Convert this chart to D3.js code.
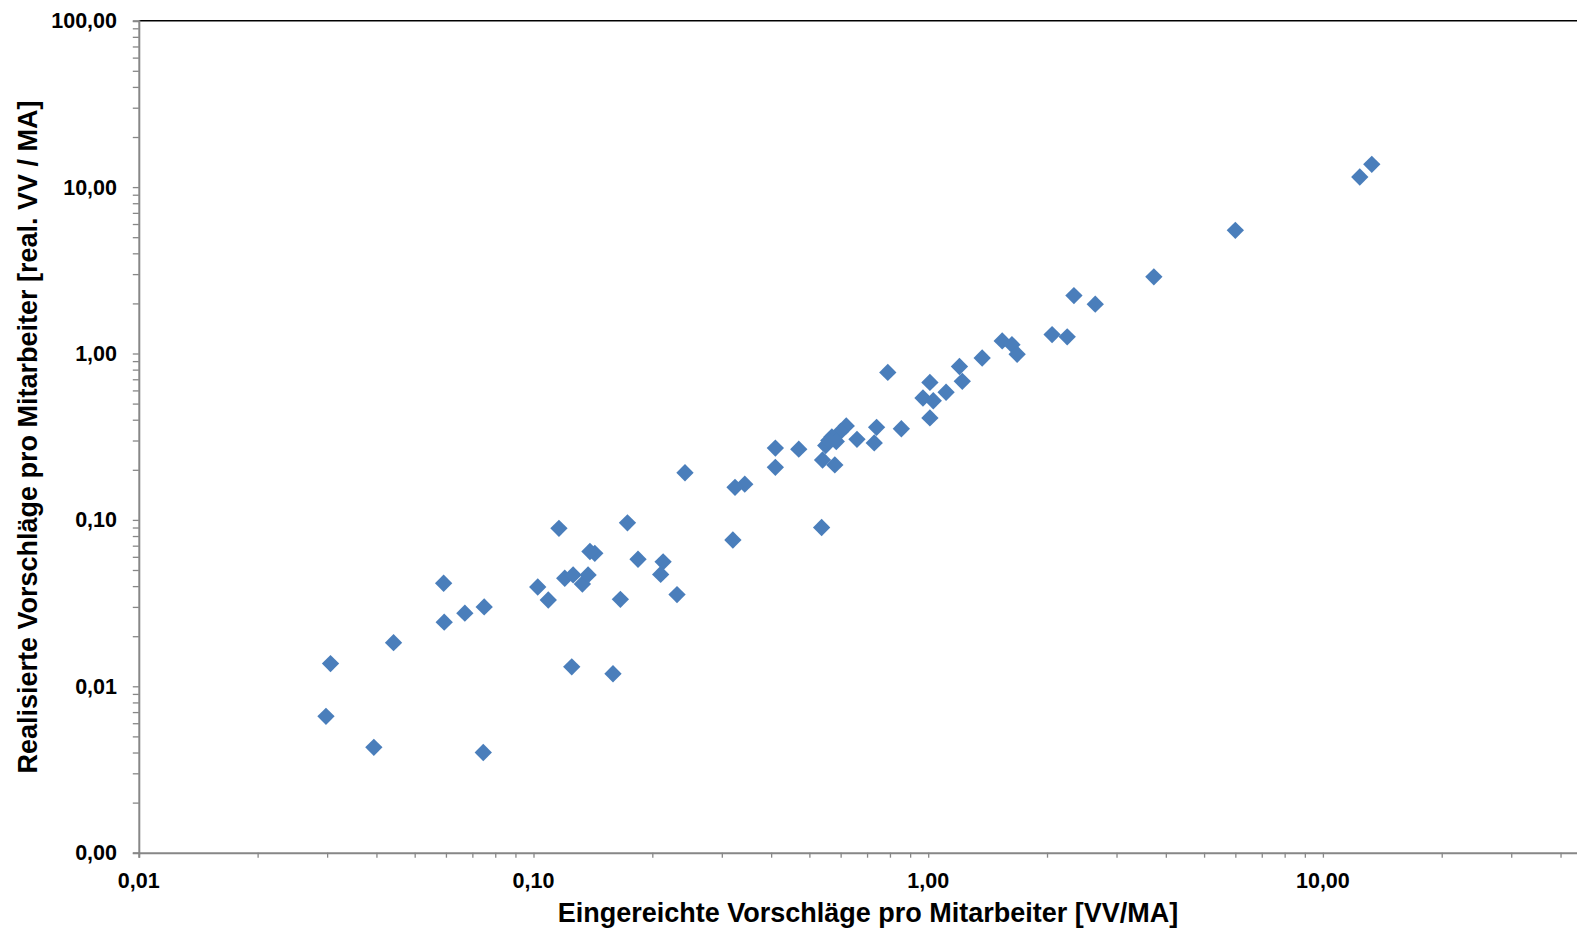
<!DOCTYPE html>
<html>
<head>
<meta charset="utf-8">
<script src="https://cdn.jsdelivr.net/npm/d3@7"></script>
<style>
    body { margin: 0; background: #fff; }
    svg text { font-family: "Liberation Sans", Arial, sans-serif; font-weight: bold; fill: #000; }
</style>
</head>
<body>
<script>
// submitted proposals per employee (x) and realised proposals per employee (y)
var eingereicht = [13.3, 12.4, 6.0, 3.73, 2.34, 2.65, 2.06, 2.25, 1.54, 1.63, 1.68, 1.37,
    1.20, 0.79, 1.22, 1.01, 1.11, 0.97, 1.03, 1.01, 0.855, 0.74, 0.73, 0.66, 0.62, 0.60,
    0.57, 0.55, 0.585, 0.54, 0.58, 0.47, 0.41, 0.41, 0.343, 0.324, 0.242, 0.537, 0.32,
    0.173, 0.116, 0.143, 0.139, 0.184, 0.213, 0.21, 0.231, 0.166, 0.1025, 0.109, 0.12,
    0.126, 0.133, 0.1375, 0.125, 0.159, 0.0592, 0.0594, 0.067, 0.075, 0.0442, 0.0306,
    0.0298, 0.0394, 0.0746, 0.56];
var realisiert = [13.7, 11.5, 5.5, 2.89, 2.23, 1.98, 1.30, 1.26, 1.19, 1.13, 0.99, 0.94,
    0.835, 0.77, 0.68, 0.67, 0.585, 0.54, 0.52, 0.41, 0.353, 0.36, 0.29, 0.305, 0.367, 0.34,
    0.315, 0.28, 0.296, 0.229, 0.214, 0.266, 0.27, 0.207, 0.164, 0.157, 0.192, 0.090, 0.0757,
    0.096, 0.089, 0.063, 0.0646, 0.058, 0.056, 0.047, 0.0356, 0.0333, 0.0395, 0.033, 0.0446,
    0.0467, 0.0412, 0.0467, 0.0131, 0.0119, 0.0416, 0.0243, 0.0275, 0.030, 0.0183, 0.0137,
    0.0066, 0.0043, 0.0040, 0.30];

// axis tick labels (decades)
var xTicks = [0.01, 0.1, 1, 10];
var xTickLabels = ["0,01", "0,10", "1,00", "10,00"];
var yTicks = [0.001, 0.01, 0.1, 1, 10, 100];
var yTickLabels = ["0,00", "0,01", "0,10", "1,00", "10,00", "100,00"];

var fullWidth = 1577;
var fullHeight = 930;

// plot area: the x axis runs on past the right edge of the picture
var plotLeft = 138.8, plotTop = 20.7, plotBottom = 852.7, decade = 394.7;

var svg = d3.select("body")
            .append("svg")
            .attr("width", fullWidth)
            .attr("height", fullHeight);

var xScale = d3.scaleLog()
               .domain([0.01, 100])
               .range([plotLeft, plotLeft + 4 * decade]);

var yScale = d3.scaleLog()
               .domain([0.001, 100])
               .range([plotBottom, plotTop]);

// minor ticks 1..9 of every decade
function logTicks(lo, hi) {
    var t = [];
    for (var e = lo; e < hi; e++) {
        for (var m = 1; m < 10; m++) t.push(m * Math.pow(10, e));
    }
    t.push(Math.pow(10, hi));
    return t;
}

// top frame line
svg.append("line")
   .attr("x1", plotLeft).attr("x2", fullWidth)
   .attr("y1", plotTop).attr("y2", plotTop)
   .attr("stroke", "#000")
   .attr("stroke-width", 1.5);

// y axis
var yAxis = d3.axisLeft(yScale)
              .tickValues(logTicks(-3, 2))
              .tickSize(6)
              .tickFormat("");
svg.append("g")
   .attr("transform", "translate(" + plotLeft + ",0)")
   .call(yAxis)
   .call(function(g) {
       g.select(".domain").attr("stroke", "#878787").attr("stroke-width", 2);
       g.selectAll(".tick line").attr("stroke", "#878787").attr("stroke-width", 1.3);
   });

// x axis
var xAxis = d3.axisBottom(xScale)
              .tickValues(logTicks(-2, 2))
              .tickSize(5)
              .tickFormat("");
svg.append("g")
   .attr("transform", "translate(0," + plotBottom + ")")
   .call(xAxis)
   .call(function(g) {
       g.select(".domain").attr("stroke", "#878787").attr("stroke-width", 2);
       g.selectAll(".tick line").attr("stroke", "#878787").attr("stroke-width", 1.3);
   });

// y tick labels
svg.selectAll(".ylab")
   .data(yTicks)
   .enter()
   .append("text")
   .attr("class", "ylab")
   .attr("x", 117)
   .attr("y", function(d) { return yScale(d) + 7.5; })
   .attr("text-anchor", "end")
   .style("font-size", "21.5px")
   .text(function(d, i) { return yTickLabels[i]; });

// x tick labels
svg.selectAll(".xlab")
   .data(xTicks)
   .enter()
   .append("text")
   .attr("class", "xlab")
   .attr("x", function(d) { return xScale(d); })
   .attr("y", 888)
   .attr("text-anchor", "middle")
   .style("font-size", "21.5px")
   .text(function(d, i) { return xTickLabels[i]; });

// axis titles
svg.append("text")
   .attr("x", 868)
   .attr("y", 922)
   .attr("text-anchor", "middle")
   .style("font-size", "27px")
   .text("Eingereichte Vorschläge pro Mitarbeiter [VV/MA]");

svg.append("text")
   .attr("transform", "translate(37,437) rotate(-90)")
   .attr("text-anchor", "middle")
   .style("font-size", "27px")
   .text("Realisierte Vorschläge pro Mitarbeiter [real. VV / MA]");

// diamond markers
var diamond = d3.symbol().type(d3.symbolSquare).size(150);
svg.selectAll(".dot")
   .data(d3.range(eingereicht.length))
   .enter()
   .append("path")
   .attr("class", "dot")
   .attr("d", diamond)
   .attr("transform", function(i) {
       return "translate(" + xScale(eingereicht[i]) + "," + yScale(realisiert[i]) + ") rotate(45)";
   })
   .attr("fill", "#4a7ebb");
</script>
</body>
</html>
